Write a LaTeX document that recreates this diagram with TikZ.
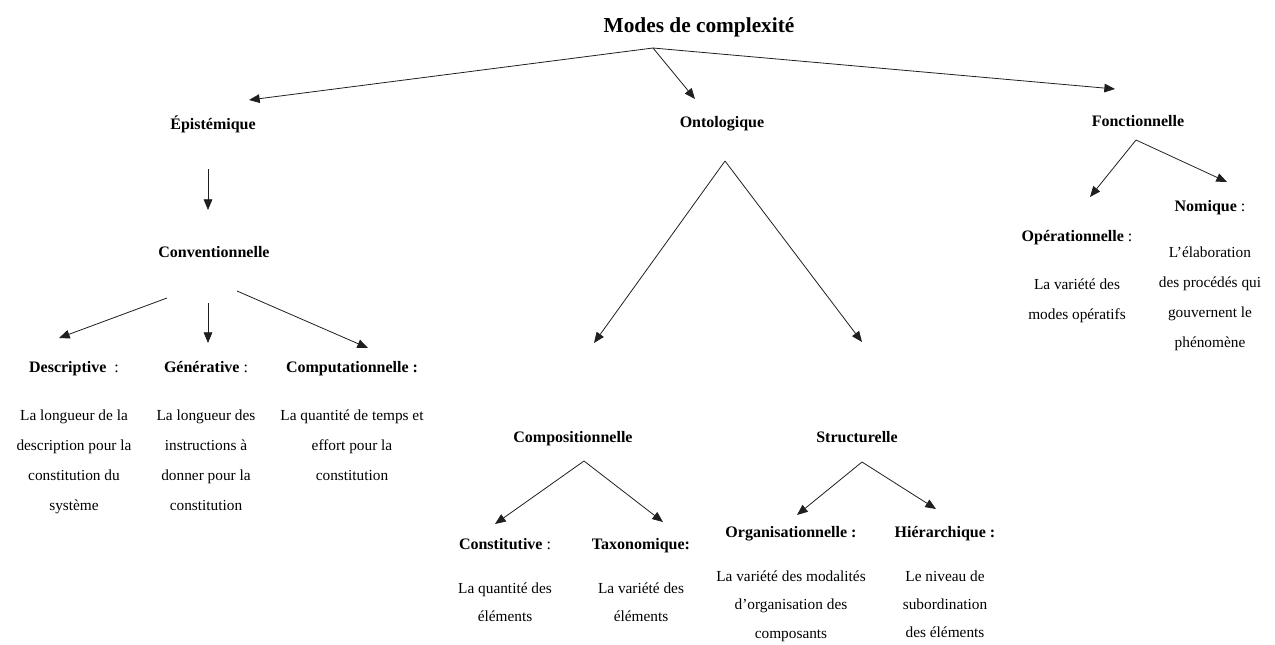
\documentclass[tikz,border=0pt]{standalone}
\usepackage{fontspec}
\setmainfont{Liberation Serif}
\usetikzlibrary{arrows.meta, positioning}
\definecolor{InkBlack}{gray}{0.12}
\tikzset{%
  title_label/.style={%
    font={\fontsize{16pt}{19pt}\selectfont\bfseries},%
    inner sep=0pt,%
  },
  mode_label/.style={%
    font={\fontsize{12pt}{14pt}\selectfont\bfseries},%
    inner sep=0pt,%
    text height=9pt,%
    text depth=3pt,%
  },
  mode_text/.style={%
    font={\fontsize{11.5pt}{22.5pt}\selectfont},%
    inner sep=0pt,%
    align=center,%
  },
  mode_text_tight/.style={%
    mode_text,%
    font={\fontsize{11.5pt}{21.3pt}\selectfont},%
  },
  tree_path/.style={%
    color=InkBlack,%
    line width=0.6pt,%
  },
  arrow/.style={-{Triangle[length=8pt, width=6.5pt]}},
}
\begin{document}
\begin{tikzpicture}[x=0.75pt, y=0.75pt]
  \useasboundingbox (0,0) rectangle (1275,-644);

  % top level
  \node [title_label] (Modes) at (699,-27) {Modes de complexité};
  \node [mode_label] (Epistemique) at (213,-125) {Épistémique};
  \node [mode_label] (Ontologique) at (722,-123) {Ontologique};
  \node [mode_label] (Fonctionnelle) at (1138,-122) {Fonctionnelle};

  % epistemic branch
  \node [mode_label] (Conventionnelle) at (214,-253) {Conventionnelle};
  \node [mode_label] (Descriptive) at (74,-368) {Descriptive\ \ \textmd{:}};
  \node [mode_label] (Generative) at (206,-368) {Générative \textmd{:}};
  \node [mode_label] (Computationnelle) at (352,-368) {Computationnelle :};
  \node [mode_text, below = 33 of Descriptive] (Descriptive_text)
    {La longueur de la\\description pour la\\constitution du\\système};
  \node [mode_text, below = 33 of Generative] (Generative_text)
    {La longueur des\\instructions à\\donner pour la\\constitution};
  \node [mode_text, below = 33 of Computationnelle] (Computationnelle_text)
    {La quantité de temps et\\effort pour la\\constitution};

  % ontological branch
  \node [mode_label] (Compositionnelle) at (573,-438) {Compositionnelle};
  \node [mode_label] (Structurelle) at (857,-438) {Structurelle};
  \node [mode_label] (Constitutive) at (505,-545) {Constitutive \textmd{:}};
  \node [mode_label] (Taxonomique) at (641,-545) {Taxonomique:};
  \node [mode_label] (Organisationnelle) at (791,-533) {Organisationnelle :};
  \node [mode_label] (Hierarchique) at (945,-533) {Hiérarchique :};
  \node [mode_text_tight, below = 29 of Constitutive] (Constitutive_text)
    {La quantité des\\éléments};
  \node [mode_text_tight, below = 29 of Taxonomique] (Taxonomique_text)
    {La variété des\\éléments};
  \node [mode_text_tight, below = 29 of Organisationnelle] (Organisationnelle_text)
    {La variété des modalités\\d’organisation des\\composants};
  \node [mode_text_tight, below = 29 of Hierarchique] (Hierarchique_text)
    {Le niveau de\\subordination\\des éléments};

  % functional branch
  \node [mode_label] (Operationnelle) at (1077,-237) {Opérationnelle \textmd{:}};
  \node [mode_label] (Nomique) at (1210,-207) {Nomique \textmd{:}};
  \node [mode_text, below = 33 of Operationnelle] (Operationnelle_text)
    {La variété des\\modes opératifs};
  \node [mode_text, below = 31 of Nomique] (Nomique_text)
    {L’élaboration\\des procédés qui\\gouvernent le\\phénomène};

  % arrow ends
  \coordinate (modes_fork) at (653,-48);
  \coordinate (epist_in) at (249,-100);
  \coordinate (onto_in) at (695,-99);
  \coordinate (fonct_in) at (1115,-89);
  \coordinate (epist_out) at (208,-169);
  \coordinate (conv_in) at (208,-210);
  \coordinate (conv_left) at (167,-298);
  \coordinate (conv_mid) at (208,-303);
  \coordinate (conv_right) at (237,-291);
  \coordinate (descr_in) at (59,-338);
  \coordinate (gener_in) at (208,-343);
  \coordinate (comput_in) at (368,-348);
  \coordinate (onto_fork) at (725,-161);
  \coordinate (compo_in) at (594,-343);
  \coordinate (struct_in) at (862,-342);
  \coordinate (compo_fork) at (584,-461);
  \coordinate (constit_in) at (495,-524);
  \coordinate (taxo_in) at (663,-522);
  \coordinate (struct_fork) at (862,-462);
  \coordinate (organ_in) at (797,-515);
  \coordinate (hier_in) at (936,-509);
  \coordinate (fonct_fork) at (1136,-140);
  \coordinate (operat_in) at (1090,-197);
  \coordinate (nomique_in) at (1227,-182);

  \draw [arrow, tree_path] (modes_fork) -- (epist_in);
  \draw [arrow, tree_path] (modes_fork) -- (onto_in);
  \draw [arrow, tree_path] (modes_fork) -- (fonct_in);
  \draw [arrow, tree_path] (epist_out) -- (conv_in);
  \draw [arrow, tree_path] (conv_left) -- (descr_in);
  \draw [arrow, tree_path] (conv_mid) -- (gener_in);
  \draw [arrow, tree_path] (conv_right) -- (comput_in);
  \draw [arrow, tree_path] (onto_fork) -- (compo_in);
  \draw [arrow, tree_path] (onto_fork) -- (struct_in);
  \draw [arrow, tree_path] (compo_fork) -- (constit_in);
  \draw [arrow, tree_path] (compo_fork) -- (taxo_in);
  \draw [arrow, tree_path] (struct_fork) -- (organ_in);
  \draw [arrow, tree_path] (struct_fork) -- (hier_in);
  \draw [arrow, tree_path] (fonct_fork) -- (operat_in);
  \draw [arrow, tree_path] (fonct_fork) -- (nomique_in);
\end{tikzpicture}
\end{document}
